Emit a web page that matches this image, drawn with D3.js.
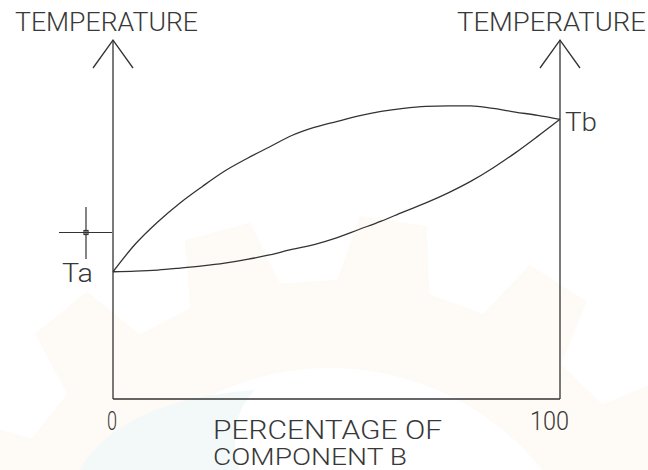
<!DOCTYPE html>
<html>
<head>
<meta charset="utf-8">
<script src="https://cdn.jsdelivr.net/npm/d3@7"></script>
<style>
  html, body { margin: 0; padding: 0; background: #ffffff; }
  svg { display: block; }
  .lbl { font-family: Roboto, "Open Sans", "DejaVu Sans", sans-serif; font-weight: 300; fill: #383838; }
</style>
</head>
<body>
<svg id="chart" width="648" height="470"></svg>
<script>
// Binary phase diagram: composition (percent of component B) vs temperature.
const composition = [0, 5, 10, 15, 20, 25, 30, 35, 40, 45, 50, 55, 60, 65, 70, 75, 80, 85, 90, 95, 100];
// upper boundary (liquidus) and lower boundary (solidus), relative temperature units
const liquidus = [45.5, 55.4, 63.3, 70.1, 76.0, 81.5, 86.0, 90.1, 94.2, 97.1, 99.2, 101.2, 102.8, 103.9, 104.6, 104.8, 104.8, 103.9, 102.6, 101.4, 100];
const solidus  = [45.5, 45.7, 46.1, 46.8, 47.6, 48.6, 49.9, 51.5, 53.5, 55.2, 57.6, 60.6, 63.6, 66.9, 70.1, 73.7, 77.8, 82.6, 88.0, 93.9, 100];
const xTickValues = [0, 100];
const xTickLabels = ["0", "100"];
const pureLabels = ["Ta", "Tb"];
const yTitle = "TEMPERATURE";
const xTitleLines = ["PERCENTAGE OF", "COMPONENT B"];

const svg = d3.select("#chart");
const ink = "#333333";

// faint background emblem
const bg = svg.append("g");
(function drawGear() {
  const cx = 330, cy = 640, rIn = 272, rBase = 360, rTooth = 425, n = 15;
  const step = 2 * Math.PI / n;
  const pts = [];
  for (let i = 0; i < n; i++) {
    const a0 = i * step + 0.02;
    const a1 = a0 + step * 0.12;
    const a2 = a0 + step * 0.5;
    const a3 = a0 + step * 0.62;
    pts.push([a0, rBase], [a1, rTooth], [a2, rTooth], [a3, rBase]);
  }
  const outer = pts.map(([a, r], i) => (i ? "L" : "M") + (cx + r * Math.sin(a)).toFixed(1) + "," + (cy - r * Math.cos(a)).toFixed(1)).join("") + "Z";
  const inner = `M${cx - rIn},${cy}a${rIn},${rIn} 0 1,0 ${2 * rIn},0a${rIn},${rIn} 0 1,0 ${-2 * rIn},0Z`;
  bg.append("path").attr("d", outer + inner).attr("fill", "#fefaf6").attr("fill-rule", "evenodd");
  bg.append("path")
    .attr("d", "M80,470 Q120,400 255,390 Q225,420 240,470 Z")
    .attr("fill", "#f3f9f9");
})();

const x = d3.scaleLinear().domain([0, 100]).range([113, 560]);
const y = d3.scaleLinear().domain([0, 100]).range([399, 119.3]);
const arrowTip = 40, arrowSpread = 20, arrowDrop = 28;

const g = svg.append("g").attr("fill", "none").attr("stroke", ink).attr("stroke-width", 1.3);

// axes: bottom baseline plus two temperature axes with open arrowheads
g.append("line").attr("x1", x(0)).attr("x2", x(100)).attr("y1", y(0)).attr("y2", y(0));
[0, 100].forEach(v => {
  const px = x(v);
  g.append("line").attr("x1", px).attr("x2", px).attr("y1", y(0)).attr("y2", arrowTip);
  g.append("path").attr("d", `M${px - arrowSpread},${arrowTip + arrowDrop}L${px},${arrowTip}L${px + arrowSpread},${arrowTip + arrowDrop}`);
});

// phase boundaries
const line = d3.line()
  .x((d, i) => x(composition[i]))
  .y(d => y(d))
  .curve(d3.curveMonotoneX);
g.append("path").attr("d", line(liquidus));
g.append("path").attr("d", line(solidus));

// pointer cross
const cross = svg.append("g").attr("stroke", ink).attr("stroke-width", 1.2).attr("fill", "none");
cross.append("line").attr("x1", 59).attr("x2", 112).attr("y1", 232.5).attr("y2", 232.5);
cross.append("line").attr("x1", 86).attr("x2", 86).attr("y1", 207).attr("y2", 259);
cross.append("rect").attr("x", 84).attr("y", 230.5).attr("width", 4).attr("height", 4);

// text (grouped in a layer so glyphs get plain grey antialiasing)
const txt = svg.append("g").attr("opacity", 0.999);
function label(t, px, py, len, size) {
  return txt.append("text").attr("class", "lbl")
    .attr("x", px).attr("y", py)
    .attr("font-size", size || 26)
    .attr("textLength", len).attr("lengthAdjust", "spacingAndGlyphs")
    .text(t);
}
label(yTitle, 15, 31, 183);
label(yTitle, 457, 31, 189);
label(pureLabels[0], x(0) - 51, y(liquidus[0]) + 10, 31);
label(pureLabels[1], x(100) + 5, y(liquidus[liquidus.length - 1]) + 11.5, 32);
label(xTickLabels[0], x(xTickValues[0]) - 6, 429.5, 10);
label(xTickLabels[1], x(xTickValues[1]) - 30, 430, 39);
label(xTitleLines[0], 213, 438.5, 229);
label(xTitleLines[1], 213, 464.5, 194, 24);
</script>
</body>
</html>
